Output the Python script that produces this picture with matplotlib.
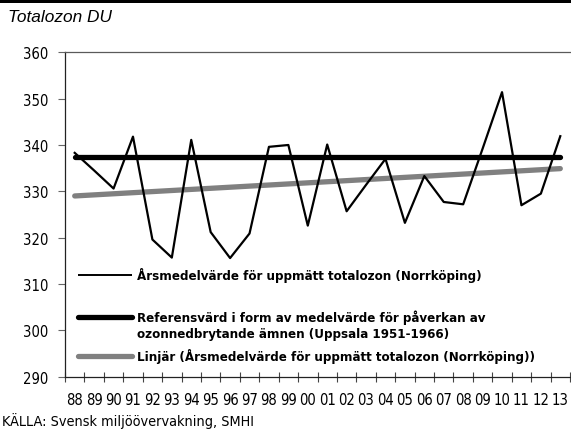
import matplotlib
matplotlib.use("Agg")
import matplotlib.pyplot as plt
from matplotlib import font_manager
from matplotlib.lines import Line2D
from matplotlib.patches import Rectangle

# ---------------- data ----------------
years = ["88", "89", "90", "91", "92", "93", "94", "95", "96", "97", "98", "99",
         "00", "01", "02", "03", "04", "05", "06", "07", "08", "09", "10", "11",
         "12", "13"]
ozone = [338.3, 334.5, 330.6, 341.8, 319.6, 315.7, 341.1, 321.2, 315.6, 320.9,
         339.6, 340.0, 322.6, 340.1, 325.7, 331.4, 337.0, 323.2, 333.3, 327.7,
         327.2, 339.2, 351.4, 327.0, 329.5, 341.9]
reference_value = 337.3
trend_start = 329.0
trend_end = 334.9
yticks = [290, 300, 310, 320, 330, 340, 350, 360]

label_data = "Årsmedelvärde för uppmätt totalozon (Norrköping)"
label_ref = "Referensvärd i form av medelvärde för påverkan av\nozonnedbrytande ämnen (Uppsala 1951-1966)"
label_trend = "Linjär (Årsmedelvärde för uppmätt totalozon (Norrköping))"

# ---------------- fonts ----------------
names = {f.name for f in font_manager.fontManager.ttflist}
if "Liberation Sans Narrow" in names:
    cond = ["Liberation Sans Narrow", "DejaVu Sans"]
    cond_stretch = "normal"
else:
    cond = ["DejaVu Sans"]
    cond_stretch = "condensed"
plain = ["Liberation Sans", "DejaVu Sans"]

fig = plt.figure(figsize=(5.71, 4.35), dpi=100)
ax = fig.add_axes([65 / 571, 57.3 / 435, 505 / 571, 324.4 / 435])

x = list(range(len(years)))
gray = "#808080"

ax.plot([x[0], x[-1]], [reference_value, reference_value], color="black",
        lw=3.8, solid_capstyle="round", zorder=2)
ax.plot([x[0], x[-1]], [trend_start, trend_end], color=gray,
        lw=3.8, solid_capstyle="round", zorder=3)
ax.plot(x, ozone, color="black", lw=1.6, zorder=4)

tick_fs = 10.6
ax.set_xlim(-0.5, len(years) - 0.5)
ax.set_ylim(290, 360)
ax.set_yticks(yticks)
ax.set_yticklabels([str(t) for t in yticks], fontfamily=cond, fontsize=tick_fs,
                   fontstretch=cond_stretch)
ax.set_xticks(x)
ax.set_xticklabels(years, fontfamily=cond, fontsize=tick_fs, fontstretch=cond_stretch)
ax.tick_params(axis="x", which="major", length=0, pad=11)
ax.set_xticks([i - 0.5 for i in range(len(years) + 1)], minor=True)
ax.tick_params(axis="x", which="minor", direction="inout", length=7, width=0.8,
               color="#444444")
ax.tick_params(axis="y", direction="out", length=5, width=0.8, color="#666666", pad=7)

ax.spines["right"].set_visible(False)
ax.spines["top"].set_color("#5a5a5a")
ax.spines["top"].set_linewidth(0.9)
ax.spines["left"].set_color("#222222")
ax.spines["left"].set_linewidth(0.9)
ax.spines["bottom"].set_color("#222222")
ax.spines["bottom"].set_linewidth(0.9)

# ---------------- legend (manual, inside plot) ----------------
leg_fs = 9.55
lx0, lx1, tx = 0.0257, 0.1327, 0.1426
entries = [
    (0.3135, dict(color="black", lw=1.4, solid_capstyle="butt"), label_data),
    (0.184, dict(color="black", lw=3.8, solid_capstyle="round"), label_ref),
    (0.0638, dict(color=gray, lw=3.8, solid_capstyle="round"), label_trend),
]
for yy, style, lab in entries:
    ax.add_line(Line2D([lx0, lx1], [yy, yy], transform=ax.transAxes, zorder=5, **style))
    ax.text(tx, yy + 0.024, lab, transform=ax.transAxes, fontfamily=cond,
            fontstretch=cond_stretch, fontweight="bold", fontsize=leg_fs,
            va="top", ha="left", linespacing=1.3, zorder=5)

# ---------------- titles / source ----------------
fig.text(8 / 571, 1 - 18 / 435, "Totalozon DU", fontfamily=plain, fontstyle="italic",
         fontsize=12.4, va="center", ha="left")
fig.text(2 / 571, 1 - 421 / 435, "KÄLLA: Svensk miljöövervakning, SMHI",
         fontfamily=cond, fontstretch=cond_stretch, fontsize=10.4, va="center", ha="left")
fig.add_artist(Rectangle((0, 1 - 4 / 435), 1, 4 / 435, transform=fig.transFigure,
                         color="black", lw=0))

fig.savefig("out.png", dpi=100)
